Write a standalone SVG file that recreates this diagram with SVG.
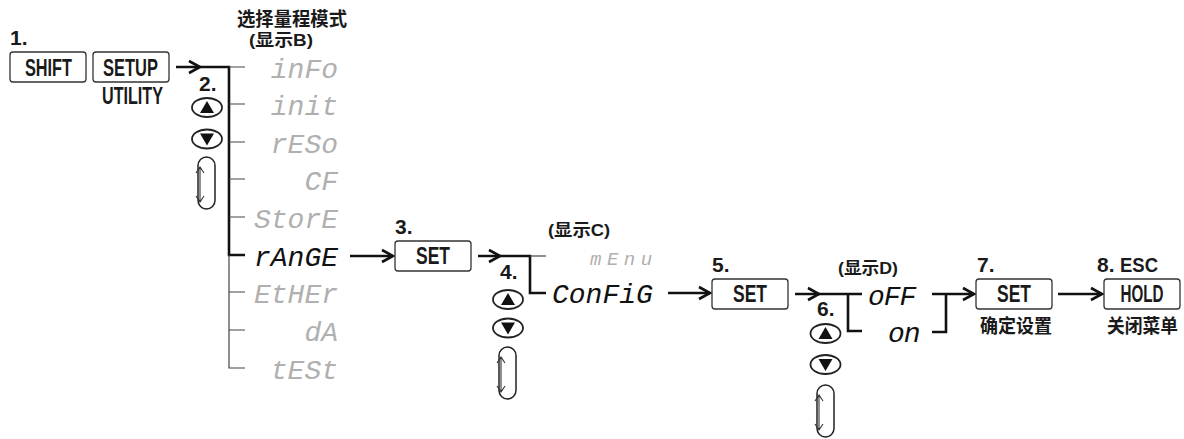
<svg xmlns="http://www.w3.org/2000/svg" xmlns:xlink="http://www.w3.org/1999/xlink" width="1184" height="439" viewBox="0 0 1184 439">
<style>
.box{fill:#fff;stroke:#333;stroke-width:1.3}
.btn{font-family:"Liberation Sans","Noto Sans CJK SC",sans-serif;font-weight:bold;font-size:23px;fill:#1a1a1a}
.lbl{font-family:"Liberation Sans","Noto Sans CJK SC",sans-serif;font-weight:bold;font-size:21px;fill:#1a1a1a}
.cjk{font-family:"Liberation Sans","Noto Sans CJK SC",sans-serif;font-weight:bold;font-size:19px;fill:#1a1a1a}
.sub{font-family:"Liberation Sans","Noto Sans CJK SC",sans-serif;font-weight:bold;font-size:17px;fill:#1a1a1a}
.seg{font-family:"Liberation Mono",monospace;font-style:italic;font-size:28px;fill:#b0b0b0}
.act{fill:#111}
.thick{stroke:#111;stroke-width:2.6;fill:none}
.thin{stroke:#444;stroke-width:1.2;fill:none}
.chev{stroke:#111;stroke-width:2.6;fill:none;stroke-linejoin:miter}
.oval{fill:#fff;stroke:#222;stroke-width:1.8}
.tri{fill:#111}
.cap{fill:none;stroke:#222;stroke-width:1.5}
.scr{fill:none;stroke:#333;stroke-width:1.1}
</style>
<defs>
<path id="chev" class="chev" d="M-11,-6 L0,0 L-11,6"/>
<g id="updown">
<ellipse class="oval" cx="0" cy="0" rx="15" ry="9.5"/>
<path class="tri" d="M-7,5.5 L0,-6.5 L7,5.5 Z"/>
</g>
<g id="downbtn">
<ellipse class="oval" cx="0" cy="0" rx="15" ry="9.5"/>
<path class="tri" d="M-7,-5.5 L0,6.5 L7,-5.5 Z"/>
</g>
<g id="scroll">
<rect class="cap" x="0" y="0" width="17" height="52" rx="8.5"/>
<path class="scr" d="M2,11 L2,44 M-2,16 L2,10 L6,16 M-2,39 L2,45 L6,39"/>
</g>
</defs>

<g id="connectors">
<path class="thick" d="M176,67 L229,67 L229,255 L245,255"/>
<use xlink:href="#chev" x="200" y="67"/>
<path class="thin" d="M229,67 L245,67 M229,104 L245,104 M229,142 L245,142 M229,179 L245,179 M229,217 L245,217 M229,255 L229,368 L245,368 M229,292 L245,292 M229,330 L245,330"/>
<path class="thick" d="M350,256 L393,256"/>
<use xlink:href="#chev" x="393" y="256"/>
<path class="thick" d="M478,256 L530,256 L530,293 L546,293"/>
<use xlink:href="#chev" x="500" y="256"/>
<path class="thin" d="M530,256 L546,256"/>
<path class="thick" d="M668,293 L710,293"/>
<use xlink:href="#chev" x="710" y="293"/>
<path class="thick" d="M795,294 L862,294 M848,294 L848,331 L862,331"/>
<use xlink:href="#chev" x="819" y="294"/>
<path class="thick" d="M932,294 L946,294 L946,332 L932,332 M946,294 L974,294"/>
<use xlink:href="#chev" x="974" y="294"/>
<path class="thick" d="M1058,294 L1102,294"/>
<use xlink:href="#chev" x="1102" y="294"/>
</g>

<g id="step1">
<text class="lbl" x="10" y="45">1.</text>
</g>
<g id="shift">
<rect class="box" x="10" y="52" width="76" height="30" rx="3"/>
<text class="btn" x="25" y="76" textLength="47" lengthAdjust="spacingAndGlyphs">SHIFT</text>
</g>
<g id="setup">
<rect class="box" x="93" y="52" width="76" height="30" rx="3"/>
<text class="btn" x="103" y="76" textLength="55" lengthAdjust="spacingAndGlyphs">SETUP</text>
<text class="btn" x="102" y="104" textLength="61" lengthAdjust="spacingAndGlyphs">UTILITY</text>
</g>

<g id="title-b">
<text class="cjk" x="237" y="26" textLength="110" lengthAdjust="spacingAndGlyphs">选择量程模式</text>
<text class="sub" x="249" y="46" textLength="64" lengthAdjust="spacingAndGlyphs">(显示B)</text>
</g>

<g id="step2">
<text class="lbl" x="199" y="91">2.</text>
<use xlink:href="#updown" x="207" y="107.5"/>
<use xlink:href="#downbtn" x="207" y="139"/>
<use xlink:href="#scroll" x="198" y="157"/>
</g>

<g id="menu-b">
<text class="seg" x="338" y="78" text-anchor="end">inFo</text>
<text class="seg" x="338" y="115" text-anchor="end">init</text>
<text class="seg" x="338" y="153" text-anchor="end">rESo</text>
<text class="seg" x="338" y="190" text-anchor="end">CF</text>
<text class="seg" x="338" y="228" text-anchor="end">StorE</text>
<text class="seg act" x="338" y="266" text-anchor="end">rAnGE</text>
<text class="seg" x="338" y="303" text-anchor="end">EtHEr</text>
<text class="seg" x="338" y="341" text-anchor="end">dA</text>
<text class="seg" x="338" y="379" text-anchor="end">tESt</text>
</g>

<g id="step3">
<text class="lbl" x="395" y="234">3.</text>
<rect class="box" x="395" y="241" width="76" height="30" rx="3"/>
<text class="btn" x="433" y="264" text-anchor="middle" textLength="34" lengthAdjust="spacingAndGlyphs">SET</text>
</g>

<g id="step4">
<text class="lbl" x="500" y="279">4.</text>
<use xlink:href="#updown" x="508" y="299.5"/>
<use xlink:href="#downbtn" x="508" y="328"/>
<use xlink:href="#scroll" x="499" y="347"/>
</g>

<g id="menu-c">
<text class="sub" x="548" y="236" textLength="62" lengthAdjust="spacingAndGlyphs">(显示C)</text>
<text class="seg" x="590" y="265" style="font-size:19px" letter-spacing="5.5">mEnu</text>
<text class="seg act" x="552" y="303">ConFiG</text>
</g>

<g id="step5">
<text class="lbl" x="712" y="272">5.</text>
<rect class="box" x="712" y="279" width="76" height="30" rx="3"/>
<text class="btn" x="750" y="302" text-anchor="middle" textLength="34" lengthAdjust="spacingAndGlyphs">SET</text>
</g>

<g id="step6">
<text class="lbl" x="817" y="316">6.</text>
<use xlink:href="#updown" x="825.5" y="333.5"/>
<use xlink:href="#downbtn" x="825.5" y="364.5"/>
<use xlink:href="#scroll" x="817" y="385"/>
</g>

<g id="menu-d">
<text class="sub" x="838" y="274" textLength="60" lengthAdjust="spacingAndGlyphs">(显示D)</text>
<text class="seg act" x="868" y="305" letter-spacing="-1">oFF</text>
<text class="seg act" x="888" y="342" letter-spacing="-1">on</text>
</g>

<g id="step7">
<text class="lbl" x="977" y="272">7.</text>
<rect class="box" x="976" y="279" width="76" height="30" rx="3"/>
<text class="btn" x="1014" y="302" text-anchor="middle" textLength="34" lengthAdjust="spacingAndGlyphs">SET</text>
<text class="cjk" x="980" y="333" textLength="72" lengthAdjust="spacingAndGlyphs">确定设置</text>
</g>

<g id="step8">
<text class="lbl" x="1097" y="272">8.</text>
<text class="lbl" x="1120" y="272" textLength="38" lengthAdjust="spacingAndGlyphs">ESC</text>
<rect class="box" x="1104" y="279" width="76" height="30" rx="3"/>
<text class="btn" x="1142" y="302" text-anchor="middle" textLength="43" lengthAdjust="spacingAndGlyphs">HOLD</text>
<text class="cjk" x="1107" y="333" textLength="71" lengthAdjust="spacingAndGlyphs">关闭菜单</text>
</g>
</svg>
